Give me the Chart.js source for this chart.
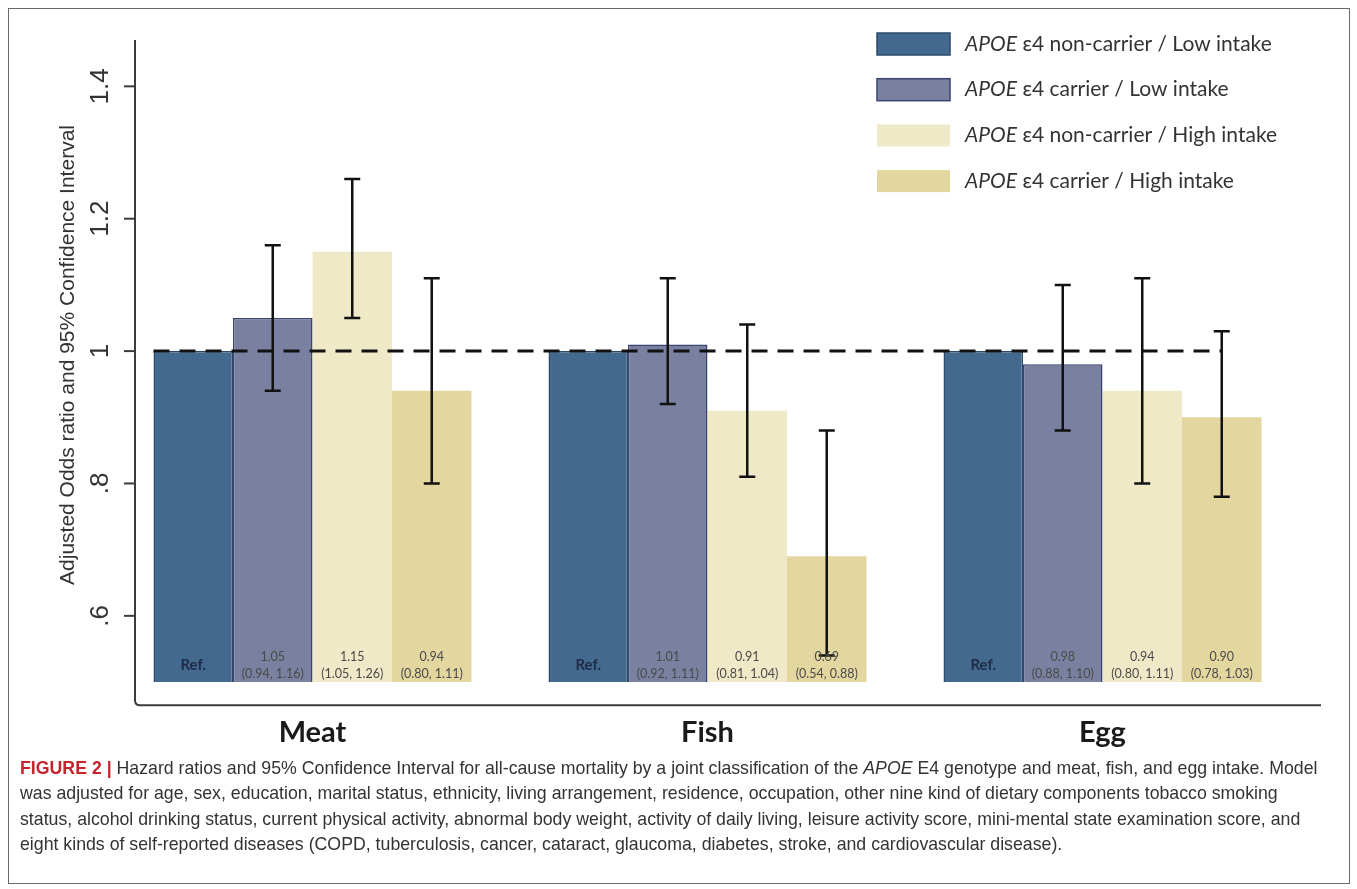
<!DOCTYPE html>
<html>
<head>
<meta charset="utf-8">
<script src="https://cdn.jsdelivr.net/npm/chart.js@4.4.0/dist/chart.umd.min.js"></script>
<style>
  html, body { margin: 0; padding: 0; background: #fff; }
  #wrap { position: relative; width: 1357px; height: 889px; overflow: hidden; }
  #frame { position: absolute; left: 8px; top: 8px; width: 1342px; height: 876px;
           border: 1px solid #6a6a6a; box-sizing: border-box; }
  #chart { position: absolute; left: 0; top: 0; }
  #caption { position: absolute; left: 20px; top: 755px; color: #333;
             font-family: "Liberation Sans", Arial, sans-serif;
             font-size: 18.5px; line-height: 25.3px;
             transform: scaleX(0.958); transform-origin: left top; }
  #caption div { white-space: nowrap; }
  #caption .fig { color: #c8222a; font-weight: bold; }
</style>
</head>
<body>
<div id="wrap">
  <div id="frame"></div>
  <canvas id="chart" width="1357" height="889"></canvas>
  <div id="caption">
    <div><span class="fig">FIGURE 2 |</span> Hazard ratios and 95% Confidence Interval for all-cause mortality by a joint classification of the <i>APOE</i> E4 genotype and meat, fish, and egg intake. Model</div>
    <div>was adjusted for age, sex, education, marital status, ethnicity, living arrangement, residence, occupation, other nine kind of dietary components tobacco smoking</div>
    <div>status, alcohol drinking status, current physical activity, abnormal body weight, activity of daily living, leisure activity score, mini-mental state examination score, and</div>
    <div>eight kinds of self-reported diseases (COPD, tuberculosis, cancer, cataract, glaucoma, diabetes, stroke, and cardiovascular disease).</div>
  </div>
</div>
<script>
// Données
const categories = ['Meat', 'Fish', 'Egg'];
const seriesLabels = ['ε4 non-carrier / Low intake', 'ε4 carrier / Low intake',
                      'ε4 non-carrier / High intake', 'ε4 carrier / High intake'];
const nonCarrierLow = [1, 1, 1];
const carrierLow = [1.05, 1.01, 0.98];
const nonCarrierHigh = [1.15, 0.91, 0.94];
const carrierHigh = [0.94, 0.69, 0.90];
// intervalles de confiance (null = référence)
const carrierLowCI = [[0.94, 1.16], [0.92, 1.11], [0.88, 1.10]];
const nonCarrierHighCI = [[1.05, 1.26], [0.81, 1.04], [0.80, 1.11]];
const carrierHighCI = [[0.80, 1.11], [0.54, 0.88], [0.78, 1.03]];
const yTickValues = [0.6, 0.8, 1.0, 1.2, 1.4];
const yTickLabels = ['.6', '.8', '1', '1.2', '1.4'];
const yTitle = 'Adjusted Odds ratio and 95% Confidence Interval';
const refValue = 1;

const seriesValues = [nonCarrierLow, carrierLow, nonCarrierHigh, carrierHigh];
const seriesCI = [null, carrierLowCI, nonCarrierHighCI, carrierHighCI];
const barColors = ['#44698f', '#7a80a0', '#f0e9c8', '#e4d69f'];
const borderColors = ['#2c4a6b', '#3a4471', '#f0e9c8', '#e4d69f'];
const borderWidths = [1.5, 1.5, 0, 0];

const calFont = 'Lato, "Open Sans", sans-serif';
const arialFont = '"Liberation Sans", Arial, sans-serif';

const figurePlugin = {
    id: 'figure',
    afterDatasetsDraw(chart) {
        const ctx = chart.ctx;
        const y = chart.scales.y;
        const metas = seriesValues.map((_, i) => chart.getDatasetMeta(i));

        // ligne pointillée de référence
        const first = metas[0].data[0];
        const last = metas[3].data[categories.length - 1];
        const yRef = y.getPixelForValue(refValue);
        ctx.save();
        ctx.strokeStyle = '#111';
        ctx.lineWidth = 3;
        ctx.setLineDash([16, 10]);
        ctx.beginPath();
        ctx.moveTo(first.x - first.width / 2, yRef);
        ctx.lineTo(last.x, yRef);
        ctx.stroke();
        ctx.restore();

        // barres d'erreur
        ctx.save();
        ctx.strokeStyle = '#111';
        ctx.lineWidth = 2.5;
        seriesCI.forEach((ci, i) => {
            if (!ci) return;
            metas[i].data.forEach((bar, j) => {
                const lo = y.getPixelForValue(ci[j][0]);
                const hi = y.getPixelForValue(ci[j][1]);
                ctx.beginPath();
                ctx.moveTo(bar.x, lo); ctx.lineTo(bar.x, hi);
                ctx.moveTo(bar.x - 8, lo); ctx.lineTo(bar.x + 8, lo);
                ctx.moveTo(bar.x - 8, hi); ctx.lineTo(bar.x + 8, hi);
                ctx.stroke();
            });
        });
        ctx.restore();

        // étiquettes dans les barres
        ctx.save();
        ctx.textAlign = 'center';
        ctx.textBaseline = 'middle';
        const base = metas[0].data[0].base;
        metas.forEach((meta, i) => {
            meta.data.forEach((bar, j) => {
                if (!seriesCI[i]) {
                    ctx.fillStyle = '#1e2b47';
                    ctx.font = 'bold 15px ' + calFont;
                    ctx.fillText('Ref.', bar.x, base - 17);
                } else {
                    const v = seriesValues[i][j].toFixed(2);
                    const ci = seriesCI[i][j];
                    ctx.fillStyle = '#4a4a4a';
                    ctx.font = '12.5px ' + calFont;
                    ctx.fillText(v, bar.x, base - 25);
                    ctx.fillText('(' + ci[0].toFixed(2) + ', ' + ci[1].toFixed(2) + ')', bar.x, base - 8);
                }
            });
        });
        ctx.restore();
    },
    afterDraw(chart) {
        const ctx = chart.ctx;
        const area = chart.chartArea;
        const y = chart.scales.y;
        const axisX = area.left + 20;

        // cadre des axes (coin arrondi)
        ctx.save();
        ctx.strokeStyle = '#3c3c3c';
        ctx.lineWidth = 2;
        ctx.beginPath();
        ctx.moveTo(axisX, area.top);
        ctx.lineTo(axisX, area.bottom - 5);
        ctx.quadraticCurveTo(axisX, area.bottom, axisX + 5, area.bottom);
        ctx.lineTo(area.right + 21, area.bottom);
        ctx.stroke();

        // graduations de l'axe y
        ctx.fillStyle = '#333';
        ctx.font = '26px ' + arialFont;
        ctx.textAlign = 'center';
        ctx.textBaseline = 'middle';
        yTickValues.forEach((v, k) => {
            const py = y.getPixelForValue(v);
            ctx.beginPath();
            ctx.moveTo(axisX - 11, py); ctx.lineTo(axisX, py);
            ctx.stroke();
            ctx.save();
            ctx.translate(axisX - 34, py);
            ctx.rotate(-Math.PI / 2);
            ctx.fillText(yTickLabels[k], 0, 0);
            ctx.restore();
        });
        ctx.save();
        ctx.font = '21px ' + arialFont;
        ctx.translate(68, 355);
        ctx.rotate(-Math.PI / 2);
        ctx.fillText(yTitle, 0, 0);
        ctx.restore();

        // légende
        ctx.textAlign = 'left';
        ctx.textBaseline = 'middle';
        chart.data.datasets.forEach((ds, i) => {
            const ly = 44 + i * 45.7;
            ctx.fillStyle = ds.backgroundColor;
            ctx.fillRect(877, ly - 11, 73, 22);
            if (ds.borderWidth) {
                ctx.strokeStyle = ds.borderColor;
                ctx.lineWidth = 1.5;
                ctx.strokeRect(877, ly - 11, 73, 22);
            }
            ctx.fillStyle = '#333';
            ctx.font = 'italic 21px ' + calFont;
            ctx.fillText('APOE', 965, ly);
            const w = ctx.measureText('APOE').width;
            ctx.font = '21px ' + calFont;
            ctx.fillText(' ' + ds.label, 965 + w, ly);
        });
        ctx.restore();
    }
};

const ctx = document.getElementById('chart').getContext('2d');
new Chart(ctx, {
    type: 'bar',
    data: {
        labels: categories,
        datasets: seriesValues.map((vals, i) => ({
            label: seriesLabels[i],
            data: vals,
            base: 0.5,
            backgroundColor: barColors[i],
            borderColor: borderColors[i],
            borderWidth: borderWidths[i],
            borderSkipped: 'bottom',
            categoryPercentage: 0.805,
            barPercentage: 1
        }))
    },
    options: {
        responsive: false,
        animation: false,
        devicePixelRatio: 1,
        layout: { padding: { left: 115, right: 57, top: 40, bottom: 129 } },
        plugins: { legend: { display: false }, tooltip: { enabled: false } },
        scales: {
            x: {
                grid: { display: false, drawTicks: false },
                border: { display: false },
                ticks: { color: '#1a1a1a', padding: 10, font: { family: calFont, size: 29, weight: 'bold' } }
            },
            y: { display: false, min: 0.465, max: 1.47 }
        }
    },
    plugins: [figurePlugin]
});
</script>
</body>
</html>
